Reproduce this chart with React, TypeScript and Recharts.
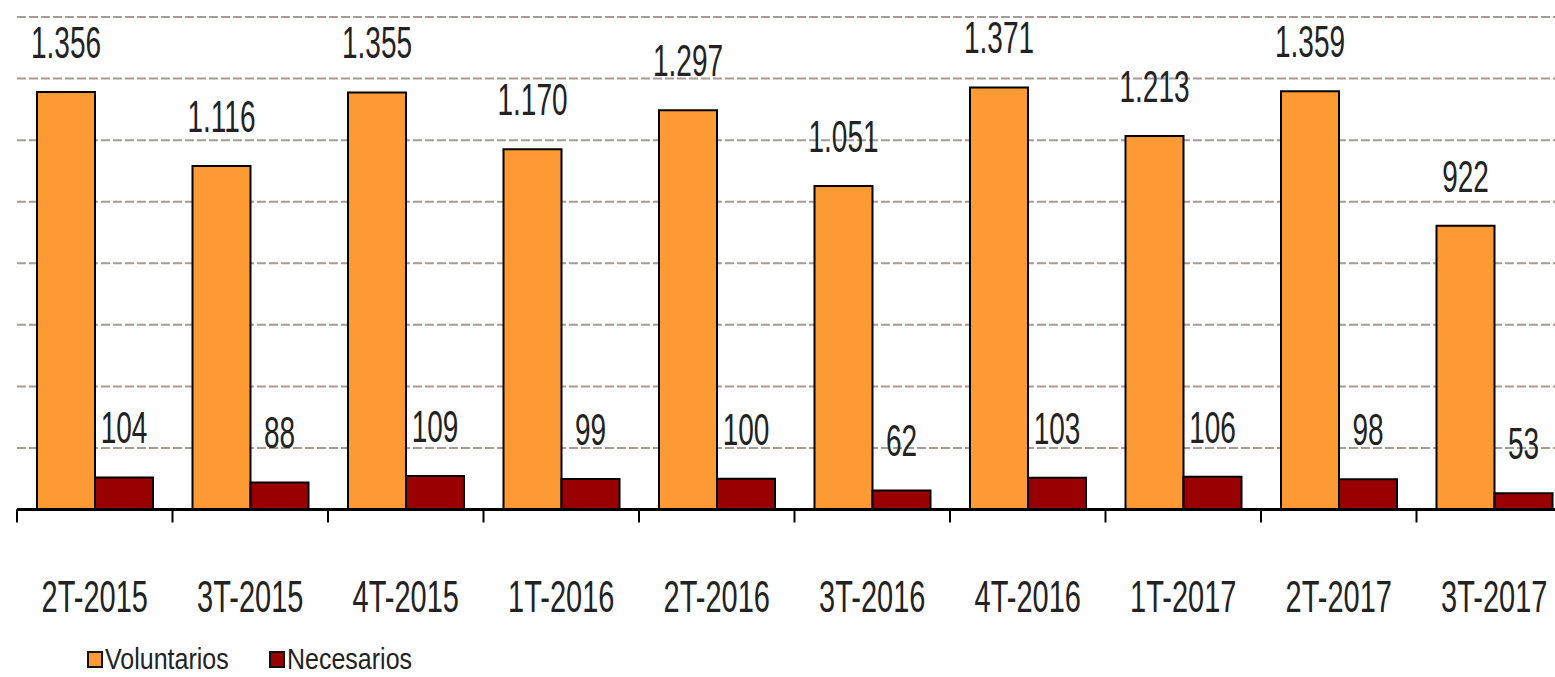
import React from "react";
import { BarChart, Bar, XAxis, YAxis, CartesianGrid, LabelList, Legend } from "recharts";

const categories = ["2T-2015", "3T-2015", "4T-2015", "1T-2016", "2T-2016", "3T-2016", "4T-2016", "1T-2017", "2T-2017", "3T-2017"];
const voluntarios = [1356, 1116, 1355, 1170, 1297, 1051, 1371, 1213, 1359, 922];
const necesarios = [104, 88, 109, 99, 100, 62, 103, 106, 98, 53];
const yTicks = [0, 200, 400, 600, 800, 1000, 1200, 1400, 1600];
const seriesOrder = ["Voluntarios", "Necesarios"];

const data = categories.map((c, i) => ({ name: c, Voluntarios: voluntarios[i], Necesarios: necesarios[i] }));

const FONT = "'Liberation Sans', Arial, sans-serif";

const fmt = (v: number) => {
  const s = String(v);
  return s.length > 3 ? s.slice(0, s.length - 3) + "." + s.slice(s.length - 3) : s;
};

const ValueLabel = (props: any) => {
  const { x, y, width, value } = props;
  const cx = x + width / 2;
  const by = y - 34;
  return (
    <text
      transform={`translate(${cx},${by}) scale(1,1.6)`}
      x={0}
      y={0}
      textAnchor="middle"
      fontFamily={FONT}
      fontSize={28}
      fill="#222"
    >
      {fmt(value)}
    </text>
  );
};

const XTick = (props: any) => {
  const { x, y, payload, width } = props;
  const half = width / categories.length / 2;
  return (
    <g>
      <line x1={x - half} y1={y} x2={x - half} y2={y + 13} stroke="#000" strokeWidth={2} />
      <text
        transform={`translate(${x},${y + 102}) scale(1,1.55)`}
        x={0}
        y={0}
        textAnchor="middle"
        fontFamily={FONT}
        fontSize={29}
        fill="#222"
      >
        {payload.value}
      </text>
    </g>
  );
};

const LegendContent = (props: any) => {
  const { payload } = props;
  const items = [...(payload || [])].sort(
    (a: any, b: any) => seriesOrder.indexOf(a.value) - seriesOrder.indexOf(b.value)
  );
  const xs = [8, 190];
  return (
    <svg width={360} height={37} style={{ display: "block" }}>
      {items.map((it: any, i: number) => (
        <g key={it.value}>
          <rect x={xs[i]} y={12} width={14} height={15} fill={it.color} stroke="#111" strokeWidth={2} />
          <text
            transform={`translate(${xs[i] + 17},${29}) scale(1,1.2)`}
            x={0}
            y={0}
            fontFamily={FONT}
            fontSize={25}
            fill="#222"
          >
            {it.value}
          </text>
        </g>
      ))}
    </svg>
  );
};

export default function App() {
  return (
    <div style={{ position: "fixed", left: 0, top: 0, width: 1555, height: 677, overflow: "hidden", background: "#fff" }}>
      <BarChart
        width={1580}
        height={677}
        data={data}
        margin={{ top: 17, right: 8, left: 17, bottom: 137.5 }}
        barCategoryGap={20}
        barGap={0}
      >
        <CartesianGrid
          vertical={false}
          horizontal={true}
          stroke="#a89a94"
          strokeWidth={2}
          strokeDasharray="9 3"
          horizontalValues={yTicks}
        />
        <YAxis hide domain={[0, 1600]} ticks={yTicks} />
        <XAxis
          dataKey="name"
          height={30}
          axisLine={{ stroke: "#000", strokeWidth: 3 }}
          tickLine={false}
          tickSize={0}
          tickMargin={0}
          interval={0}
          tick={<XTick />}
        />
        <Legend
          layout="horizontal"
          verticalAlign="middle"
          align="center"
          wrapperStyle={{ left: 80, top: 640, width: 360, height: 37 }}
          content={<LegendContent />}
        />
        <Bar dataKey="Voluntarios" fill="#FD9A33" stroke="#000" strokeWidth={2} isAnimationActive={false}>
          <LabelList dataKey="Voluntarios" content={<ValueLabel />} />
        </Bar>
        <Bar dataKey="Necesarios" fill="#990000" stroke="#000" strokeWidth={2} isAnimationActive={false}>
          <LabelList dataKey="Necesarios" content={<ValueLabel />} />
        </Bar>
      </BarChart>
    </div>
  );
}
